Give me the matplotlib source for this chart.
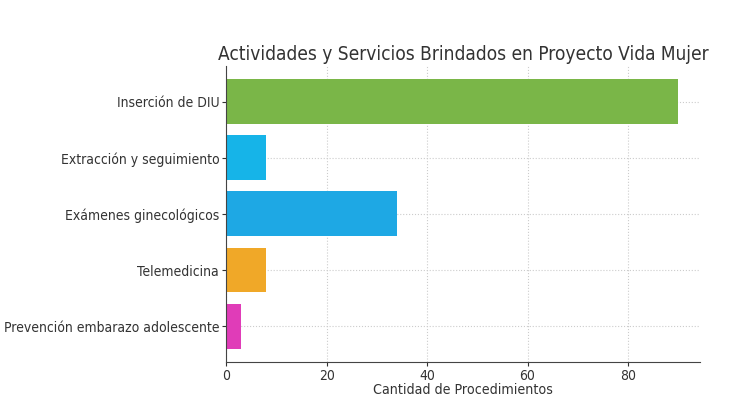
import matplotlib
matplotlib.use("Agg")
import matplotlib.pyplot as plt

categories = ["Inserción de DIU", "Extracción y seguimiento", "Exámenes ginecológicos",
              "Telemedicina", "Prevención embarazo adolescente"]
values = [90, 8, 34, 8, 3]
colors = ["#7ab648", "#16b4e8", "#1ea8e4", "#f0a828", "#e03cb8"]

plt.rcParams["font.stretch"] = "condensed"
fig = plt.figure(figsize=(7.32, 4.04), dpi=100)
ax = fig.add_axes([0.309, 0.104, 0.647, 0.733])
ax.barh(categories, values, color=colors, height=0.8, zorder=2)
ax.invert_yaxis()
ax.set_xlim(0, 94.3)
ax.grid(True, linestyle=":", color="#cccccc", linewidth=0.8, zorder=0)
for s in ["top", "right"]:
    ax.spines[s].set_visible(False)
for s in ["left", "bottom"]:
    ax.spines[s].set_color("#444444")
ax.tick_params(colors="#333333", labelsize=10, length=3, pad=2)
ax.set_xlabel("Cantidad de Procedimientos", fontsize=10.2, color="#333333", labelpad=0)
ax.set_title("Actividades y Servicios Brindados en Proyecto Vida Mujer", fontsize=13.7,
             color="#333333", pad=4)
fig.savefig("out.png", dpi=100)
